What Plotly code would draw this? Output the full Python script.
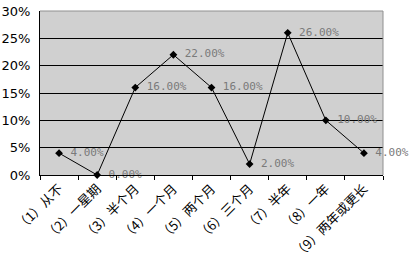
import plotly.graph_objects as go

categories = ["（1）从不", "（2）一星期", "（3）半个月", "（4）一个月", "（5）两个月",
              "（6）三个月", "（7）半年", "（8）一年", "（9）两年或更长"]
values = [0.04, 0.00, 0.16, 0.22, 0.16, 0.02, 0.26, 0.10, 0.04]
labels = ["4.00%", "0.00%", "16.00%", "22.00%", "16.00%", "2.00%", "26.00%", "10.00%", "4.00%"]
y_ticks = [0, 0.05, 0.10, 0.15, 0.20, 0.25, 0.30]
y_tick_text = ["0%", "5%", "10%", "15%", "20%", "25%", "30%"]

fig = go.Figure(go.Scatter(
    x=categories, y=values, mode="lines+markers+text",
    line=dict(color="black", width=1),
    marker=dict(symbol="diamond", size=6, color="black"),
    text=[" " + t for t in labels], textposition="middle right",
    textfont=dict(family="DejaVu Sans Mono", size=11, color="#7a7a7a"),
    cliponaxis=False,
))

fig.update_layout(
    width=413, height=269,
    margin=dict(l=40, r=30, t=11, b=94),
    paper_bgcolor="white", plot_bgcolor="#d0d0d0",
    showlegend=False,
    xaxis=dict(
        type="category", tickangle=-45, tickson="boundaries",
        ticks="outside", ticklen=4, tickcolor="black", automargin=False,
        showgrid=False, showline=True, linecolor="black", linewidth=1,
        mirror=False, range=[-0.5, 8.5],
        tickfont=dict(family="Noto Sans CJK SC", size=13, color="black"),
    ),
    yaxis=dict(
        range=[0, 0.30], tickvals=y_ticks, ticktext=y_tick_text,
        showgrid=True, gridcolor="black", gridwidth=1, automargin=False,
        showline=True, linecolor="black", linewidth=1,
        ticks="", zeroline=False, ticklabelstandoff=6,
        tickfont=dict(family="DejaVu Sans", size=13, color="black"),
    ),
    shapes=[
        dict(type="line", xref="paper", yref="paper", x0=0, x1=1, y0=1, y1=1,
             line=dict(color="#909090", width=1), layer="above"),
        dict(type="line", xref="paper", yref="paper", x0=1, x1=1, y0=0, y1=1,
             line=dict(color="#909090", width=1), layer="above"),
    ],
)

fig.write_html("out.html")
